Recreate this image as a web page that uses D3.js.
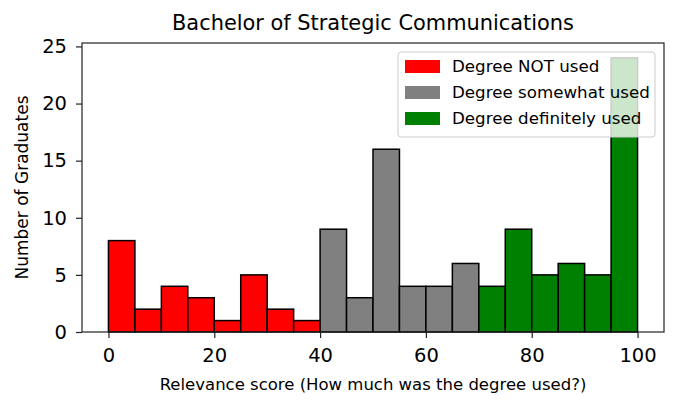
<!DOCTYPE html>
<html>
<head>
<meta charset="utf-8">
<script src="https://cdn.jsdelivr.net/npm/d3@7"></script>
<style>
  body { margin: 0; background: #fff; }
  text { font-family: "DejaVu Sans", sans-serif; }
</style>
</head>
<body>
<div id="chart"></div>
<script>
// bins of width 5 from 0 to 100
const binStarts = [0, 5, 10, 15, 20, 25, 30, 35, 40, 45, 50, 55, 60, 65, 70, 75, 80, 85, 90, 95];
const counts = [8, 2, 4, 3, 1, 5, 2, 1, 9, 3, 16, 4, 4, 6, 4, 9, 5, 6, 5, 24];
const groupNames = ['Degree NOT used', 'Degree somewhat used', 'Degree definitely used'];
const groupColors = ['#ff0000', '#808080', '#008000'];
const groupLimits = [40, 70];
const xTicks = [0, 20, 40, 60, 80, 100];
const yTicks = [0, 5, 10, 15, 20, 25];

const width = 678, height = 408;
const margin = {top: 43, right: 14, bottom: 76, left: 82};
const graphWidth = width - margin.left - margin.right;
const graphHeight = height - margin.top - margin.bottom;

const svg = d3.select('#chart').append('svg')
    .attr('width', width)
    .attr('height', height);

const groupOf = v => (v < groupLimits[0] ? 0 : (v < groupLimits[1] ? 1 : 2));

const xFun = d3.scaleLinear().domain([-5, 105]).range([0, graphWidth]);
const yFun = d3.scaleLinear().domain([0, 25.3]).range([graphHeight, 0]);

const g = svg.append('g').attr('transform', `translate(${margin.left},${margin.top})`);

// watermark
svg.append('text')
    .attr('transform', 'translate(322,222) rotate(-50)')
    .attr('text-anchor', 'middle')
    .attr('dominant-baseline', 'middle')
    .attr('font-size', 38)
    .attr('fill', '#000')
    .attr('fill-opacity', 0.025)
    .text('CourseDegreeData.com');

// bars
g.append('g').selectAll('rect')
    .data(binStarts.map((s, i) => ({x0: s, x1: s + 5, y: counts[i]})))
    .join('rect')
    .attr('x', d => xFun(d.x0))
    .attr('width', d => xFun(d.x1) - xFun(d.x0))
    .attr('y', d => yFun(d.y))
    .attr('height', d => yFun(0) - yFun(d.y))
    .attr('fill', d => groupColors[groupOf(d.x0)])
    .attr('stroke', '#000')
    .attr('stroke-width', 1.5);

// axes
const xAxis = d3.axisBottom(xFun).tickValues(xTicks).tickSize(6).tickPadding(10);
const yAxis = d3.axisLeft(yFun).tickValues(yTicks).tickSize(6).tickPadding(9);

const xAxisG = g.append('g').attr('transform', `translate(0,${graphHeight})`).call(xAxis);
const yAxisG = g.append('g').call(yAxis);
[xAxisG, yAxisG].forEach(a => {
    a.select('.domain').remove();
    a.selectAll('line').attr('stroke', '#222').attr('stroke-width', 1.2);
    a.selectAll('text').attr('font-size', 19.5).attr('fill', '#000')
        .style('font-family', '"DejaVu Sans", sans-serif');
});

// frame
g.append('rect')
    .attr('width', graphWidth)
    .attr('height', graphHeight)
    .attr('fill', 'none')
    .attr('stroke', '#222')
    .attr('stroke-width', 1.2);

// legend
const legend = g.append('g').attr('transform', `translate(${graphWidth - 266},9)`);
legend.append('rect')
    .attr('width', 257)
    .attr('height', 85)
    .attr('rx', 3)
    .attr('fill', '#fff')
    .attr('fill-opacity', 0.8)
    .attr('stroke', '#ccc')
    .attr('stroke-width', 1);
groupNames.forEach((name, i) => {
    const row = legend.append('g').attr('transform', `translate(7,${8 + i * 26})`);
    row.append('rect').attr('width', 35).attr('height', 13).attr('fill', groupColors[i]);
    row.append('text')
        .attr('x', 47)
        .attr('y', 12)
        .attr('font-size', 16.7)
        .text(name);
});

// titles
svg.append('text')
    .attr('x', margin.left + graphWidth / 2)
    .attr('y', 30)
    .attr('text-anchor', 'middle')
    .attr('font-size', 20.9)
    .text('Bachelor of Strategic Communications');

svg.append('text')
    .attr('x', margin.left + xFun(50))
    .attr('y', 390)
    .attr('text-anchor', 'middle')
    .attr('font-size', 16.5)
    .text('Relevance score (How much was the degree used?)');

svg.append('text')
    .attr('transform', `translate(28,${margin.top + graphHeight / 2}) rotate(-90)`)
    .attr('text-anchor', 'middle')
    .attr('font-size', 17)
    .text('Number of Graduates');
</script>
</body>
</html>
